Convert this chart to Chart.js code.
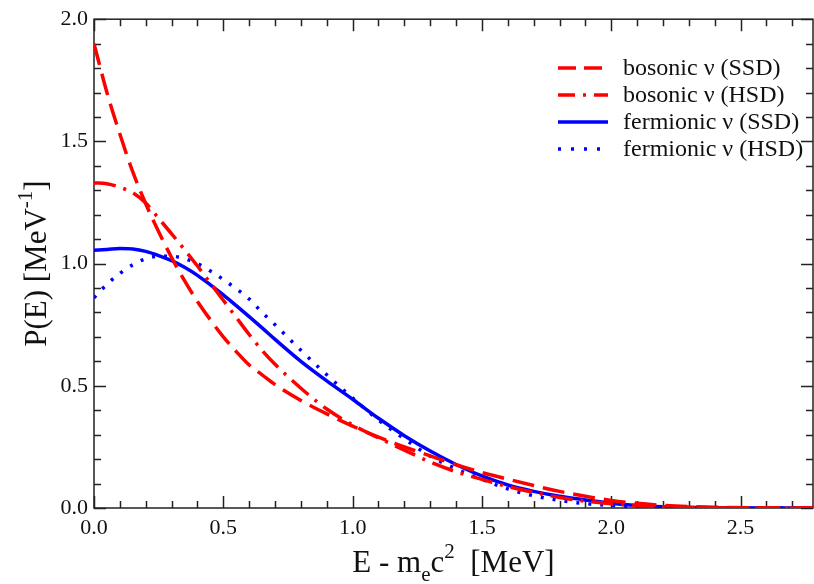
<!DOCTYPE html>
<html>
<head>
<meta charset="utf-8">
<script src="https://cdn.jsdelivr.net/npm/chart.js"></script>
<style>
html, body { margin: 0; padding: 0; background: #fff; }
</style>
</head>
<body>
<canvas id="myChart" width="814" height="584"></canvas>
<script>
// energies E - m_e c^2 in MeV, shared by all four curves
const energies = [0, 0.05, 0.1, 0.15, 0.2, 0.25, 0.3, 0.35, 0.4, 0.45, 0.5, 0.55, 0.6, 0.65, 0.7,
  0.8, 0.9, 1.0, 1.1, 1.2, 1.3, 1.4, 1.5, 1.6, 1.7, 1.8, 1.9, 2.0, 2.1, 2.2, 2.3, 2.4, 2.6, 2.78]

// P(E)
const bosonicSSD = [1.90, 1.70, 1.53, 1.375, 1.245, 1.13, 1.025, 0.93, 0.845, 0.77, 0.70, 0.64, 0.585, 0.545, 0.505,
  0.44, 0.385, 0.335, 0.29, 0.25, 0.213, 0.177, 0.145, 0.118, 0.092, 0.068, 0.048, 0.031, 0.019, 0.011, 0.006, 0.003, 0.001, 0]
const bosonicHSD = [1.33, 1.327, 1.312, 1.29, 1.248, 1.185, 1.122, 1.057, 0.99, 0.92, 0.85, 0.78, 0.71, 0.645, 0.588,
  0.49, 0.405, 0.34, 0.287, 0.237, 0.188, 0.148, 0.117, 0.088, 0.064, 0.043, 0.028, 0.017, 0.01, 0.005, 0.003, 0.001, 0, 0]
const fermionicSSD = [1.055, 1.058, 1.062, 1.06, 1.05, 1.033, 1.012, 0.985, 0.952, 0.913, 0.872, 0.828, 0.783, 0.737, 0.69,
  0.60, 0.52, 0.445, 0.367, 0.296, 0.233, 0.178, 0.131, 0.094, 0.068, 0.048, 0.033, 0.019, 0.01, 0.005, 0.002, 0.001, 0, 0]
const fermionicHSD = [0.86, 0.915, 0.96, 0.995, 1.02, 1.03, 1.03, 1.02, 1.0, 0.97, 0.935, 0.897, 0.855, 0.80, 0.75,
  0.645, 0.545, 0.45, 0.36, 0.283, 0.212, 0.16, 0.117, 0.078, 0.05, 0.031, 0.018, 0.01, 0.005, 0.002, 0.001, 0, 0, 0]

const seriesLabels = ['bosonic ν (SSD)', 'bosonic ν (HSD)', 'fermionic ν (SSD)', 'fermionic ν (HSD)']
const seriesColors = ['#ff0000', '#ff0000', '#0000ff', '#0000ff']
const seriesDash = [[22, 9], [22, 8, 3, 8], [], [3, 9]]
const legendDash = [[18, 8], [17, 8, 3, 8], [], [3, 10]]

const xMin = 0, xMax = 2.78
const yMin = 0, yMax = 2.0

const FONT = "'Liberation Serif', 'DejaVu Serif', serif"

function toPoints(vals) {
  return vals.map((v, i) => ({x: energies[i], y: v}))
}

function isMajor(v) {
  return Math.abs(v / 0.5 - Math.round(v / 0.5)) < 1e-6
}

function isStep(v) {
  return Math.abs(v / 0.1 - Math.round(v / 0.1)) < 1e-6
}

// draws text made of pieces (normal, sub, super), centred on cx
function drawPieces(ctx, pieces, cx, baseY) {
  let total = 0
  pieces.forEach(p => {
    ctx.font = p.size + 'px ' + FONT
    p.w = ctx.measureText(p.text).width
    total += p.w
  })
  let x = cx - total / 2
  pieces.forEach(p => {
    ctx.font = p.size + 'px ' + FONT
    ctx.fillText(p.text, x, baseY + (p.dy || 0))
    x += p.w
  })
}

const framePlugin = {
  id: 'frame',
  beforeDatasetsDraw(chart) {
    const ctx = chart.ctx
    const a = chart.chartArea
    const xs = chart.scales.x
    const ys = chart.scales.y
    ctx.save()
    ctx.strokeStyle = '#222'
    ctx.lineWidth = 1.5
    ctx.beginPath()
    xs.ticks.forEach(t => {
      if (!isStep(t.value)) return
      const px = Math.round(xs.getPixelForValue(t.value)) + 0.5
      const len = isMajor(t.value) ? 12 : 7
      ctx.moveTo(px, a.bottom); ctx.lineTo(px, a.bottom - len)
      ctx.moveTo(px, a.top); ctx.lineTo(px, a.top + len)
    })
    ys.ticks.forEach(t => {
      if (!isStep(t.value)) return
      const py = Math.round(ys.getPixelForValue(t.value)) + 0.5
      const len = isMajor(t.value) ? 12 : 7
      ctx.moveTo(a.left, py); ctx.lineTo(a.left + len, py)
      ctx.moveTo(a.right, py); ctx.lineTo(a.right - len, py)
    })
    ctx.stroke()
    ctx.strokeRect(a.left, a.top, a.right - a.left, a.bottom - a.top)
    ctx.restore()
  },
  afterDraw(chart) {
    const ctx = chart.ctx
    const a = chart.chartArea
    ctx.save()
    ctx.fillStyle = '#111'
    ctx.textBaseline = 'alphabetic'

    // x axis title
    drawPieces(ctx, [
      {text: 'E - m', size: 31},
      {text: 'e', size: 21, dy: 9},
      {text: 'c', size: 31},
      {text: '2', size: 21, dy: -14},
      {text: '  [MeV]', size: 31}
    ], (a.left + a.right) / 2, 572)

    // y axis title
    ctx.save()
    ctx.translate(46, (a.top + a.bottom) / 2)
    ctx.rotate(-Math.PI / 2)
    drawPieces(ctx, [
      {text: 'P(E) [MeV', size: 31},
      {text: '-1', size: 21, dy: -14},
      {text: ']', size: 31}
    ], 0, 0)
    ctx.restore()

    // legend
    const rowY = [68, 95, 122, 149]
    ctx.font = '24px ' + FONT
    ctx.textBaseline = 'middle'
    seriesLabels.forEach((lab, i) => {
      ctx.strokeStyle = seriesColors[i]
      ctx.lineWidth = 3.5
      ctx.setLineDash(legendDash[i])
      ctx.beginPath()
      ctx.moveTo(558, rowY[i])
      ctx.lineTo(608, rowY[i])
      ctx.stroke()
      ctx.setLineDash([])
      ctx.fillText(lab, 623, rowY[i] + 1)
    })
    ctx.restore()
  }
}

new Chart('myChart', {
  type: 'line',
  data: {
    datasets: [bosonicSSD, bosonicHSD, fermionicSSD, fermionicHSD].map((vals, i) => ({
      label: seriesLabels[i],
      data: toPoints(vals),
      borderColor: seriesColors[i],
      borderDash: seriesDash[i],
      borderWidth: 3.5,
      pointRadius: 0,
      fill: false,
      cubicInterpolationMode: 'monotone'
    }))
  },
  options: {
    responsive: false,
    animation: false,
    layout: {padding: {left: 0, top: 17, right: 1, bottom: 0}},
    plugins: {
      legend: {display: false},
      title: {display: false},
      tooltip: {enabled: false}
    },
    scales: {
      x: {
        type: 'linear',
        min: xMin,
        max: xMax,
        grid: {display: false, drawTicks: false},
        border: {display: false},
        ticks: {
          stepSize: 0.1,
          autoSkip: false,
          includeBounds: false,
          maxRotation: 0,
          padding: 7,
          color: '#111',
          font: {family: FONT, size: 22},
          callback: v => isMajor(v) ? v.toFixed(1) : ''
        },
        afterFit: s => { s.height = 76 }
      },
      y: {
        type: 'linear',
        min: yMin,
        max: yMax,
        grid: {display: false, drawTicks: false},
        border: {display: false},
        ticks: {
          stepSize: 0.1,
          autoSkip: false,
          padding: 6,
          color: '#111',
          font: {family: FONT, size: 22},
          callback: v => isMajor(v) ? v.toFixed(1) : ''
        },
        afterFit: s => { s.width = 94 }
      }
    }
  },
  plugins: [framePlugin]
})
</script>
</body>
</html>
